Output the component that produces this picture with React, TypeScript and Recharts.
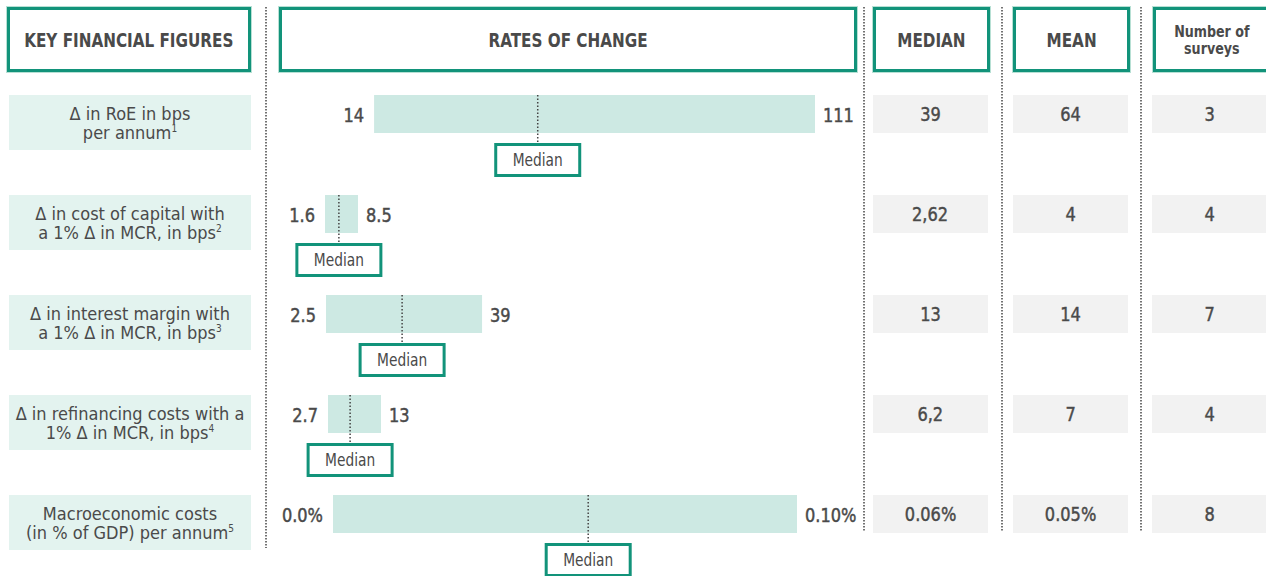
import React from "react";
import { BarChart, Bar, XAxis, YAxis, ReferenceLine } from "recharts";

const figureFirstLines = [
  "Δ in RoE in bps",
  "Δ in cost of capital with",
  "Δ in interest margin with",
  "Δ in refinancing costs with a",
  "Macroeconomic costs",
];
const figureSecondLines = [
  "per annum",
  "a 1% Δ in MCR, in bps",
  "a 1% Δ in MCR, in bps",
  "1% Δ in MCR, in bps",
  "(in % of GDP) per annum",
];
const footnotes = ["1", "2", "3", "4", "5"];

const lowValues = [14, 1.6, 2.5, 2.7, 0.0];
const highValues = [111, 8.5, 39, 13, 0.1];
const lowLabels = ["14", "1.6", "2.5", "2.7", "0.0%"];
const highLabels = ["111", "8.5", "39", "13", "0.10%"];
// where the dotted median marker sits on each bar
const medianMarks = [50, 4.5, 20.3, 7, 0.055];

const medianValues = ["39", "2,62", "13", "6,2", "0.06%"];
const meanValues = ["64", "4", "14", "7", "0.05%"];
const surveyCounts = ["3", "4", "7", "4", "8"];

// each row is drawn on its own (non-shared) scale
const rowDomains: [number, number][] = [
  [-8.9, 120.9],
  [-9.9, 113.45],
  [-10.6, 127.4],
  [-8.57, 106.1],
  [-0.01358, 0.11358],
];

const GREEN = "#12937a";
const BAR = "#cde9e3";
const LABEL_BG = "#e3f3ef";
const GRAY_BG = "#f2f2f2";
const TEXT = "#4a4a4a";
const FONT = '"DejaVu Sans Condensed", "DejaVu Sans", sans-serif';

const NumText = ({ x, y, anchor, children }: any) => (
  <text
    transform={`translate(${x},${y}) scale(0.9,1)`}
    textAnchor={anchor}
    dominantBaseline="central"
    fontSize={20}
    fill={TEXT}
    stroke={TEXT}
    strokeWidth={0.45}
    fontFamily={FONT}
  >
    {children}
  </text>
);

const RangeShape = (props: any) => {
  const { x, y, width, height, payload } = props;
  const cy = y + height / 2 + 1;
  return (
    <g>
      <rect x={x} y={y} width={width} height={height} fill={BAR} />
      <NumText x={x - 10} y={cy} anchor="end">
        {payload.lowLabel}
      </NumText>
      <NumText x={x + width + 8} y={cy} anchor="start">
        {payload.highLabel}
      </NumText>
    </g>
  );
};

const MedianMarker = (props: any) => {
  const { x1, y1, y2 } = props;
  const top = Math.min(y1, y2) + 1;
  const boxTop = top + 48;
  return (
    <g>
      <line x1={x1} x2={x1} y1={top} y2={boxTop} stroke="#444" strokeWidth={1.5} strokeDasharray="1.5 2" />
      <rect x={x1 - 42} y={boxTop + 1.5} width={84} height={31} fill="#fff" stroke={GREEN} strokeWidth={3} />
      <text
        transform={`translate(${x1},${boxTop + 17.5}) scale(0.9,1)`}
        textAnchor="middle"
        dominantBaseline="central"
        fontSize={17}
        fill={TEXT}
        fontFamily={FONT}
      >
        Median
      </text>
    </g>
  );
};

function RangeRow({ i }: { i: number }) {
  const data = [
    {
      name: figureFirstLines[i],
      range: [lowValues[i], highValues[i]],
      lowLabel: lowLabels[i],
      highLabel: highLabels[i],
    },
  ];
  return (
    <BarChart
      layout="vertical"
      width={590}
      height={100}
      data={data}
      margin={{ top: 0, right: 0, bottom: 60, left: 0 }}
      barCategoryGap={0}
    >
      <XAxis type="number" hide domain={rowDomains[i]} allowDataOverflow />
      <YAxis type="category" dataKey="name" hide />
      <Bar dataKey="range" barSize={38} shape={RangeShape} isAnimationActive={false} />
      <ReferenceLine x={medianMarks[i]} shape={MedianMarker} />
    </BarChart>
  );
}

const headerBox = (left: number, width: number): React.CSSProperties => ({
  position: "absolute",
  left,
  top: 7,
  width,
  height: 65,
  boxSizing: "border-box",
  border: `3px solid ${GREEN}`,
  boxShadow: "0 0 0 1px #b7e0d4",
  display: "flex",
  alignItems: "center",
  justifyContent: "center",
  textAlign: "center",
  fontWeight: 700,
  color: TEXT,
  background: "#fff",
  whiteSpace: "nowrap",
});

const cell = (left: number, top: number, width: number, height: number, bg: string): React.CSSProperties => ({
  position: "absolute",
  left,
  top,
  width,
  height,
  background: bg,
  display: "flex",
  alignItems: "center",
  justifyContent: "center",
  textAlign: "center",
  color: TEXT,
});

const squeeze = (k: number): React.CSSProperties => ({
  display: "inline-block",
  transform: `scaleX(${k})`,
});

const numberStyle: React.CSSProperties = {
  ...squeeze(0.9),
  fontSize: 20,
  WebkitTextStroke: `0.45px ${TEXT}`,
};

export default function App() {
  const rows = [0, 1, 2, 3, 4];
  return (
    <div
      style={{
        position: "absolute",
        left: 0,
        top: 0,
        width: 1266,
        height: 576,
        overflow: "hidden",
        background: "#fff",
        fontFamily: FONT,
      }}
    >
      <svg width={1266} height={576} style={{ position: "absolute", left: 0, top: 0 }}>
        {[
          [266, 548],
          [864, 531],
          [1002, 531],
          [1141, 531],
        ].map(([x, bottom]) => (
          <line key={x} x1={x} x2={x} y1={7} y2={bottom} stroke="#444" strokeWidth={1.5} strokeDasharray="1.5 1.5" />
        ))}
      </svg>

      <div style={{ ...headerBox(7, 244), fontSize: 20 }}>
        <span style={squeeze(0.845)}>KEY FINANCIAL FIGURES</span>
      </div>
      <div style={{ ...headerBox(279, 578), fontSize: 20 }}>
        <span style={squeeze(0.845)}>RATES OF CHANGE</span>
      </div>
      <div style={{ ...headerBox(873, 117), fontSize: 20 }}>
        <span style={squeeze(0.845)}>MEDIAN</span>
      </div>
      <div style={{ ...headerBox(1013, 117), fontSize: 20 }}>
        <span style={squeeze(0.845)}>MEAN</span>
      </div>
      <div style={{ ...headerBox(1153, 117), fontSize: 16, lineHeight: "17px" }}>
        <span style={squeeze(0.88)}>
          Number of
          <br />
          surveys
        </span>
      </div>

      {rows.map((i) => (
        <React.Fragment key={i}>
          <div style={{ ...cell(9, 95 + 100 * i, 242, 55, LABEL_BG), fontSize: 18, lineHeight: "19px" }}>
            <div>
              {figureFirstLines[i]}
              <br />
              {figureSecondLines[i]}
              <sup style={{ fontSize: 10, verticalAlign: "7px", lineHeight: 0 }}>{footnotes[i]}</sup>
            </div>
          </div>
          <div style={{ position: "absolute", left: 270, top: 94 + 100 * i }}>
            <RangeRow i={i} />
          </div>
          <div style={cell(873, 95 + 100 * i, 115, 38, GRAY_BG)}>
            <span style={numberStyle}>{medianValues[i]}</span>
          </div>
          <div style={cell(1013, 95 + 100 * i, 115, 38, GRAY_BG)}>
            <span style={numberStyle}>{meanValues[i]}</span>
          </div>
          <div style={cell(1152, 95 + 100 * i, 115, 38, GRAY_BG)}>
            <span style={numberStyle}>{surveyCounts[i]}</span>
          </div>
        </React.Fragment>
      ))}
    </div>
  );
}
